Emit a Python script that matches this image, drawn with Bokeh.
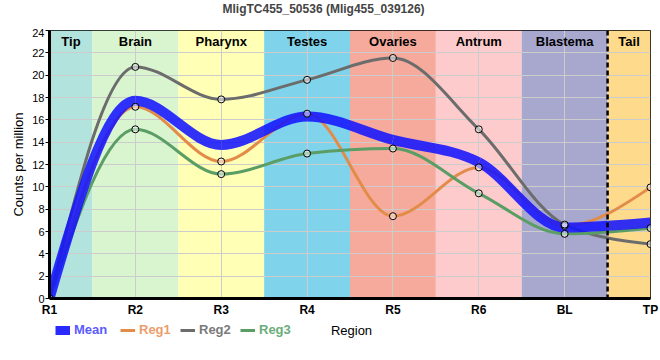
import numpy as np
from bokeh.plotting import figure
from bokeh.layouts import column
from bokeh.models import (ColumnDataSource, FixedTicker, Span, Legend, LegendItem, Range1d, Label)
from bokeh.core.properties import value
from bokeh.embed import file_html
from bokeh.resources import INLINE

# ---------------- data ----------------
title_text = "MligTC455_50536 (Mlig455_039126)"
tick_labels = ["R1", "R2", "R3", "R4", "R5", "R6", "BL", "TP"]
regions = ["Tip", "Brain", "Pharynx", "Testes", "Ovaries", "Antrum", "Blastema", "Tail"]
region_colors = ["#b3e3dd", "#d9f5d0", "#ffffb5", "#7fd4eb", "#f5aa9c", "#fdcbcb", "#a8a8cf", "#fedb8c"]

mean = [0, 17.7, 13.75, 16.3, 14.2, 12.2, 6.35, 6.8]
reg1 = [0, 17.17, 12.27, 16.55, 7.37, 11.74, 6.5, 9.95]
reg2 = [0, 20.74, 17.83, 19.58, 21.54, 15.15, 6.62, 4.87]
reg3 = [0, 15.15, 11.14, 12.98, 13.43, 9.42, 5.79, 6.3]

FONT = "Liberation Sans"


def monotone_segments(y):
    """Cubic Bezier control points of a monotone (d3 monotoneX) curve through the points."""
    x = np.arange(len(y), dtype=float)
    y = np.asarray(y, dtype=float)
    n = len(y)
    t = np.zeros(n)
    for i in range(1, n - 1):
        h0 = x[i] - x[i - 1]
        h1 = x[i + 1] - x[i]
        s0 = (y[i] - y[i - 1]) / h0
        s1 = (y[i + 1] - y[i]) / h1
        p = (s0 * h1 + s1 * h0) / (h0 + h1)
        sg = (-1 if s0 < 0 else 1) + (-1 if s1 < 0 else 1)
        t[i] = sg * min(abs(s0), abs(s1), 0.5 * abs(p))
    t[0] = (3 * (y[1] - y[0]) / (x[1] - x[0]) - t[1]) / 2
    t[-1] = (3 * (y[-1] - y[-2]) / (x[-1] - x[-2]) - t[-2]) / 2
    h = np.diff(x)
    return dict(
        x0=x[:-1], y0=y[:-1], x1=x[1:], y1=y[1:],
        cx0=x[:-1] + h / 3, cy0=y[:-1] + t[:-1] * h / 3,
        cx1=x[1:] - h / 3, cy1=y[1:] - t[1:] * h / 3,
    )


def strip(height):
    f = figure(width=660, height=height, output_backend="svg", toolbar_location=None,
               x_range=Range1d(100, 101), y_range=Range1d(100, 101),
               x_axis_location=None, y_axis_location=None,
               min_border_left=0, min_border_right=0, min_border_top=0, min_border_bottom=0,
               border_fill_color="white", background_fill_color="white")
    f.grid.visible = False
    f.outline_line_color = None
    return f


# ---------------- title strip ----------------
top = strip(28)
top.title.text = title_text
top.title.align = "left"
top.title.offset = 173
top.title.vertical_align = "top"
top.title.standoff = 2
top.title.text_font = FONT
top.title.text_font_size = "12px"
top.title.text_font_style = "bold"

# ---------------- main chart ----------------
n = len(tick_labels)
p = figure(width=660, height=292, output_backend="svg", toolbar_location=None,
           x_range=Range1d(0, n - 1), y_range=Range1d(0, 24),
           min_border_left=49, min_border_right=10, min_border_top=2, min_border_bottom=22,
           background_fill_color="white", border_fill_color="white")

# region backgrounds
lefts = [max(i - 0.5, 0) for i in range(n)]
rights = [min(i + 0.5, n - 1) for i in range(n)]
centers = [(l + r) / 2 for l, r in zip(lefts, rights)]
bg = ColumnDataSource(dict(left=lefts, right=rights, color=region_colors, name=regions, xc=centers))
p.quad(left="left", right="right", bottom=0, top=24, fill_color="color", line_color=None,
       source=bg, level="image")
p.text(x="xc", y=23.0, text="name", source=bg, text_align="center", text_baseline="middle",
       text_font=value(FONT), text_font_size="13px", text_font_style="bold", text_color="black")

p.add_layout(Span(location=n - 1.5, dimension="height", line_color="black",
                  line_width=2.5, line_dash="5 3"))

# curves
series = [("Reg1", reg1, "#e38c4a", "#ec9d6b", 3),
          ("Reg2", reg2, "#6c6c6c", "#7a7a7a", 3),
          ("Reg3", reg3, "#5a9e66", "#6aad7a", 3)]
xs = list(range(n))
for name, vals, col, tcol, lw in series:
    p.bezier(source=ColumnDataSource(monotone_segments(vals)), x0="x0", y0="y0", x1="x1", y1="y1",
             cx0="cx0", cy0="cy0", cx1="cx1", cy1="cy1", line_color=col, line_width=lw)

p.bezier(source=ColumnDataSource(monotone_segments(mean)), x0="x0", y0="y0", x1="x1", y1="y1",
         cx0="cx0", cy0="cy0", cx1="cx1", cy1="cy1", line_color="#1414ff", line_width=10,
         line_alpha=0.87)

for name, vals, col, tcol, lw in series:
    p.scatter(xs, vals, size=7, marker="circle", fill_color="white", fill_alpha=0.5,
              line_color="black", line_width=1)

# axes
xa = p.xaxis[0]
xa.ticker = FixedTicker(ticks=xs)
xa.major_label_overrides = {i: lab for i, lab in enumerate(tick_labels)}
xa.major_label_text_font = FONT
xa.major_label_text_font_size = "12px"
xa.major_label_text_font_style = "bold"
xa.major_label_text_color = "black"
xa.major_tick_out = 0
xa.major_tick_in = 0
xa.minor_tick_line_color = None
xa.major_label_standoff = 4
xa.axis_line_width = 3
xa.axis_line_color = "black"

ya = p.yaxis[0]
ya.ticker = FixedTicker(ticks=list(range(0, 25, 2)))
ya.major_label_text_font = FONT
ya.major_label_text_font_size = "11px"
ya.major_label_text_color = "black"
ya.major_tick_out = 4
ya.major_tick_in = 0
ya.major_tick_line_color = "black"
ya.minor_tick_line_color = None
ya.major_label_standoff = 1
ya.axis_line_width = 3
ya.axis_line_color = "black"
ya.axis_label = "Counts per million"
ya.axis_label_text_font = FONT
ya.axis_label_text_font_size = "13px"
ya.axis_label_text_font_style = "normal"
ya.axis_label_text_color = "black"
ya.axis_label_standoff = 3

p.xgrid.ticker = FixedTicker(ticks=xs)
p.ygrid.ticker = FixedTicker(ticks=list(range(0, 25, 2)))
p.grid.grid_line_color = "#cccccc"
p.grid.grid_line_width = 1
p.outline_line_color = "black"
p.outline_line_width = 1

# ---------------- legend strip with the x-axis title ----------------
# (its frame is aligned with the chart frame by the column layout)
leg = strip(40)

# legend proxies: same data, drawn outside the strip's visible range
proxies = [("Mean", leg.line(xs, mean, line_color="#2a2aff", line_width=9), "#5a5aff", 6)]
offs = [71, 131, 191]
for (name, vals, col, tcol, lw), off in zip(series, offs):
    proxies.append((name, leg.line(xs, vals, line_color=col, line_width=lw), tcol, off))

for name, r, tcol, off in proxies:
    lg = Legend(items=[LegendItem(label=name, renderers=[r])], location=(off, 23),
                orientation="horizontal", glyph_width=15, glyph_height=14, label_standoff=4,
                padding=0, margin=0, spacing=0, border_line_color=None, background_fill_alpha=0,
                label_text_font=FONT, label_text_font_size="13px", label_text_font_style="bold",
                label_text_color=tcol, label_height=14)
    leg.add_layout(lg, "center")

leg.add_layout(Label(x=302, y=30, x_units="screen", y_units="screen", text="Region",
                     text_align="center", text_baseline="middle", text_font=FONT,
                     text_font_size="13px", text_color="black"))

open("out.html", "w").write(file_html(column(top, p, leg, spacing=0), INLINE))
